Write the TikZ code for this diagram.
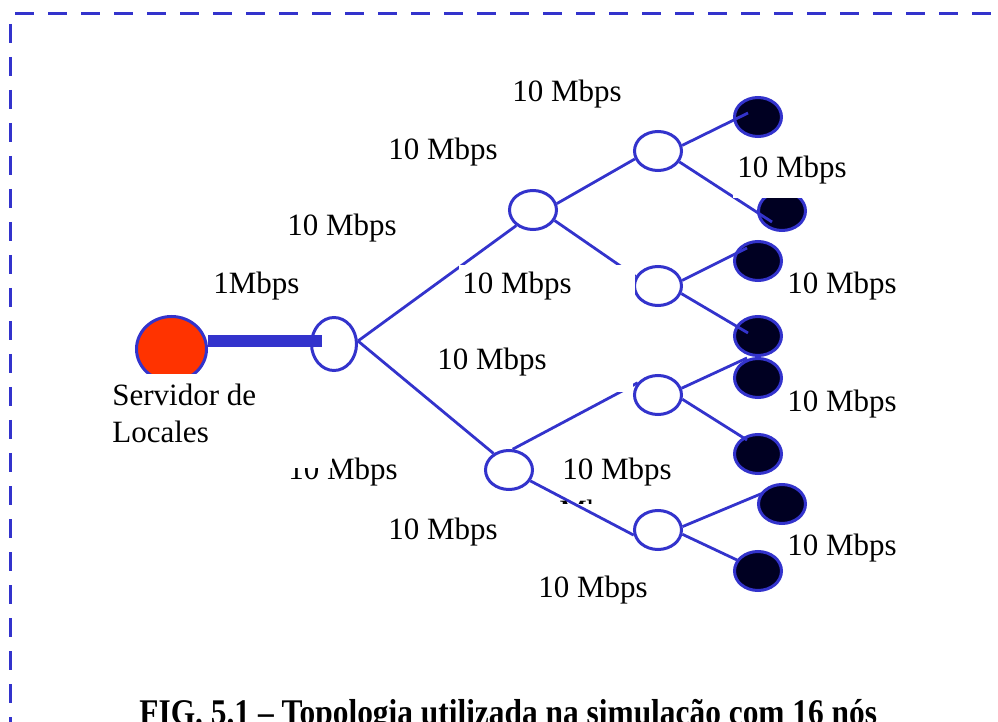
\documentclass[tikz,border=0pt]{standalone}
\usepackage{fontspec}
\setmainfont{Liberation Serif}
\usetikzlibrary{shapes.geometric}
\definecolor{netblue}{HTML}{3333CC}
\definecolor{srvred}{HTML}{FF3300}
\definecolor{leafnavy}{HTML}{000022}
\newcommand\lblfont{\fontsize{15.5pt}{18.5pt}\selectfont}
\begin{document}
\begin{tikzpicture}[x=0.5pt,y=-0.5pt,
  link/.style={draw=netblue, line width=1.4pt},
  hub/.style={ellipse, draw=netblue, line width=1.5pt, fill=white, inner sep=0, minimum width=23.5pt, minimum height=19.5pt},
  leaf/.style={ellipse, draw=netblue, line width=1.5pt, fill=leafnavy, inner sep=0, minimum width=23.5pt, minimum height=19.5pt},
  lbl/.style={anchor=base west, inner sep=0, font=\lblfont},
  frame/.style={draw=netblue, line width=1.5pt, dash pattern=on 9.5pt off 7pt},
  bg/.style={fill=white}
]
\useasboundingbox (0,0) rectangle (998,722);
\clip (0,0) rectangle (998,722);
% dashed frame
\draw[frame] (15,13.5) -- (998,13.5);
\draw[frame] (10.5,24) -- (10.5,722);
% nodes
\node[ellipse, draw=netblue, line width=1.5pt, fill=srvred, inner sep=0, minimum width=35pt, minimum height=32.5pt] (srv) at (171.5,349) {};
\node[ellipse, draw=netblue, line width=1.5pt, fill=white, inner sep=0, minimum width=22.5pt, minimum height=26.5pt] (root) at (334,344) {};
\node[hub] (u2) at (533,210) {};
\node[hub] (l2) at (509,470) {};
\node[hub] (u3a) at (658,151) {};
\node[hub] (u3b) at (658,286) {};
\node[hub] (l3a) at (658,395) {};
\node[hub] (l3b) at (658,530) {};
\node[leaf] (lf1) at (758,117) {};
\node[leaf] (lf2) at (782,211) {};
\node[leaf] (lf3) at (758,261) {};
\node[leaf] (lf4) at (758,336) {};
\node[leaf] (lf5) at (758,378) {};
\node[leaf] (lf6) at (758,454) {};
\node[leaf] (lf7) at (782,504) {};
\node[leaf] (lf8) at (758,571) {};
% connectors
\draw[netblue, line width=6pt] ([yshift=4pt]srv.east) -- ([xshift=-6pt,yshift=1.5pt]root.center);
\draw[link] ([yshift=1.5pt]root.east) -- (u2.223);
\draw[link] ([yshift=1.5pt]root.east) -- (l2.133);
\draw[link] (u2.15) -- (u3a.199);
\draw[link] (u2.-26) -- (u3b.157);
\draw[link] (l2.80) -- (l3a.149);
\draw[link] (l2.-27) -- (l3b.192);
\draw[link] (u3a.13) -- ([xshift=-5pt,yshift=2pt]lf1.center);
\draw[link] (u3a.-27) -- ([xshift=-5pt,yshift=-5.5pt]lf2.center);
\draw[link] (u3b.13) -- ([xshift=-5.5pt,yshift=6.5pt]lf3.center);
\draw[link] (u3b.-18) -- ([xshift=-5pt,yshift=1.5pt]lf4.center);
\draw[link] (l3a.16) -- ([xshift=-5.5pt,yshift=10pt]lf5.center);
\draw[link] (l3a.-10) -- ([xshift=-5.5pt,yshift=7pt]lf6.center);
\draw[link] (l3b.8) -- ([xshift=-9.5pt,yshift=5.5pt]lf7.center);
\draw[link] (l3b.-10) -- ([xshift=-10.5pt,yshift=5.5pt]lf8.center);
% labels
\node[lbl] (t1) at (512,102) {10 Mbps};
\node[lbl] (t2) at (388,160) {10 Mbps};
\fill[bg] (733,150) rectangle (850,198);
\node[lbl] (t3) at (737,178) {10 Mbps};
\node[lbl] (t4) at (287,236) {10 Mbps};
\node[lbl] (t5) at (213,294) {1Mbps};
\fill[bg] (459,265) rectangle (635,306);
\node[lbl] (t6) at (462,294) {10 Mbps};
\node[lbl] (t7) at (787,293) {10 Mbps};
\fill[bg] (434,345) rectangle (633,392);
\node[lbl] (t8) at (437,370) {10 Mbps};
\node[lbl] (t9) at (787,412) {10 Mbps};
\node[lbl] (t11) at (288,480) {10 Mbps};
\fill[bg] (108,374) rectangle (332,468);
\node[anchor=north west, inner sep=0, font=\lblfont, align=left] (srvlbl) at (112,384) {Servidor de\\Locales};
\node[lbl] (t12) at (562,480) {10 Mbps};
\begin{scope}
  \clip (540,480) rectangle (640,503);
  \node[lbl] (t16) at (559,521) {Mbps};
\end{scope}
\node[lbl] (t13) at (388,539) {10 Mbps};
\node[lbl] (t14) at (538,597) {10 Mbps};
\node[lbl] (t15) at (787,555) {10 Mbps};
% caption
\node[anchor=base west, inner sep=0, font=\bfseries\fontsize{15.7pt}{19pt}\selectfont, yscale=1.15] (cap) at (139,724) {FIG. 5.1 – Topologia utilizada na simulação com 16 nós};
\end{tikzpicture}
\end{document}
